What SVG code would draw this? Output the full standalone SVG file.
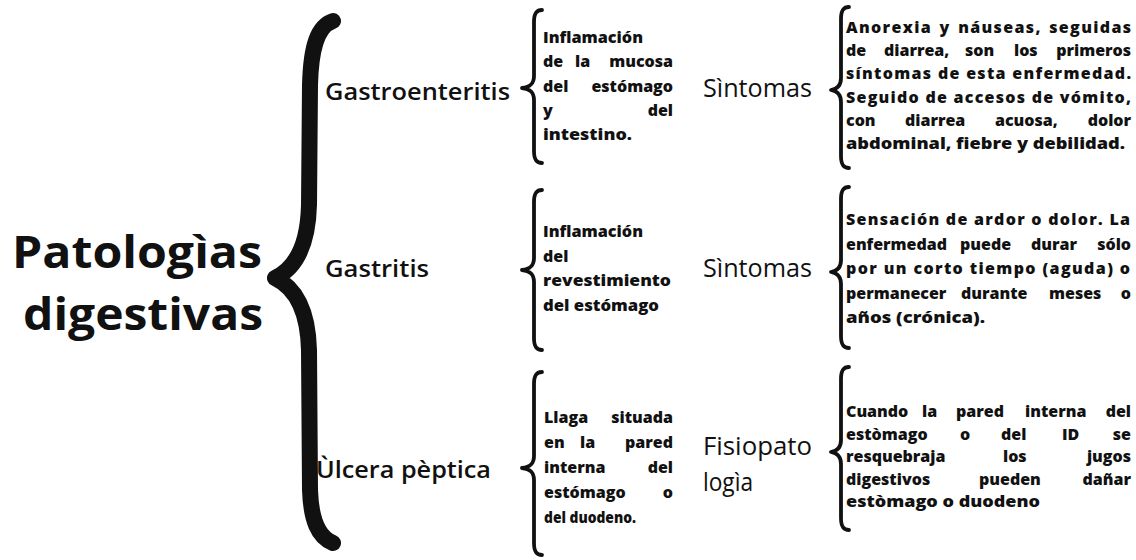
<svg xmlns="http://www.w3.org/2000/svg" width="1136" height="560" viewBox="0 0 1136 560">
<style>
.t{font-family:"Open Sans","Liberation Sans",sans-serif;fill:#111}
.main{font-size:44px;font-weight:700}
.lvl1{font-size:24px;font-weight:600}
.lbl{font-size:25px;font-weight:500}
.mid{font-size:16px;font-weight:800}
.body{font-size:16px;font-weight:800}
.e{text-anchor:end}
.br{fill:none;stroke:#111;stroke-width:3.8;stroke-linecap:round;stroke-linejoin:round}
.big{fill:none;stroke:#111;stroke-width:16;stroke-linecap:round;stroke-linejoin:round}
</style>
<rect width="1136" height="560" fill="#fff"/>
<g id="connectors">
<path class="big" d="M 333,21 C 318,26 311,45 310,85 L 309,205 C 308,245 296,268 275,278 C 296,288 308,311 309,350 L 310,490 C 311,520 318,537 333,543"/>
<path class="br" d="M 542,10 C 536,10 534,14 534,22 L 534,76 C 534,84 530,87 522,88 C 530,89 534,92 534,100 L 534,151 C 534,159 536,163 542,163"/>
<path class="br" d="M 542,190 C 536,190 534,194 534,202 L 534,258 C 534,266 530,269 522,270 C 530,271 534,274 534,282 L 534,338 C 534,346 536,350 542,350"/>
<path class="br" d="M 542,372 C 536,372 534,376 534,384 L 534,456 C 534,464 530,467 522,468 C 530,469 534,472 534,480 L 534,543 C 534,551 536,555 542,555"/>
<path class="br" d="M 849,7 C 843,7 841,11 841,19 L 841,78 C 841,86 837,89 831,90 C 837,91 841,94 841,102 L 841,156 C 841,164 843,168 849,168"/>
<path class="br" d="M 849,187 C 843,187 841,191 841,199 L 841,260 C 841,268 837,271 831,272 C 837,273 841,276 841,284 L 841,336 C 841,344 843,348 849,348"/>
<path class="br" d="M 849,367 C 843,367 841,371 841,379 L 841,440 C 841,448 837,451 831,452 C 837,453 841,456 841,464 L 841,518 C 841,526 843,530 849,530"/>
</g>
<g id="root">
<text class="t main" x="12" y="268" textLength="250" lengthAdjust="spacingAndGlyphs">Patologìas</text>
<text class="t main" x="23" y="330" textLength="240" lengthAdjust="spacingAndGlyphs">digestivas</text>
</g>
<g id="gastroenteritis">
<text class="t lvl1" x="325" y="100" textLength="185" lengthAdjust="spacingAndGlyphs">Gastroenteritis</text>
</g>
<g id="gastritis">
<text class="t lvl1" x="325" y="277" textLength="104" lengthAdjust="spacingAndGlyphs">Gastritis</text>
</g>
<g id="ulcera">
<text class="t lvl1" x="316" y="478" textLength="175" lengthAdjust="spacingAndGlyphs">Ùlcera pèptica</text>
</g>
<g id="def-gastroenteritis">
<text class="t mid" x="543" y="43" textLength="100" lengthAdjust="spacingAndGlyphs">Inflamación</text>
<text class="t mid" y="67"><tspan x="543">de</tspan><tspan x="575">la</tspan></text>
<text class="t mid e" x="673" y="67">mucosa</text>
<text class="t mid" x="543" y="91.5">del</text>
<text class="t mid e" x="673" y="91.5">estómago</text>
<text class="t mid" x="543" y="115.8">y</text>
<text class="t mid e" x="673" y="115.8">del</text>
<text class="t mid" x="543" y="140" textLength="89" lengthAdjust="spacingAndGlyphs">intestino.</text>
</g>
<g id="def-gastritis">
<text class="t mid" x="543" y="237" textLength="100" lengthAdjust="spacingAndGlyphs">Inflamación</text>
<text class="t mid" x="543" y="261.5">del</text>
<text class="t mid" x="543" y="286" textLength="128" lengthAdjust="spacingAndGlyphs">revestimiento</text>
<text class="t mid" x="543" y="310.5" textLength="116" lengthAdjust="spacingAndGlyphs">del estómago</text>
</g>
<g id="def-ulcera">
<text class="t mid" x="544" y="423">Llaga</text>
<text class="t mid e" x="673" y="423">situada</text>
<text class="t mid" y="448"><tspan x="544">en</tspan><tspan x="580">la</tspan></text>
<text class="t mid e" x="673" y="448">pared</text>
<text class="t mid" x="544" y="473">interna</text>
<text class="t mid e" x="673" y="473">del</text>
<text class="t mid" x="544" y="498">estómago</text>
<text class="t mid e" x="673" y="498">o</text>
<text class="t mid" x="544" y="523" textLength="92" lengthAdjust="spacingAndGlyphs">del duodeno.</text>
</g>
<g id="sintomas-1">
<text class="t lbl" x="703" y="97" textLength="109" lengthAdjust="spacingAndGlyphs">Sìntomas</text>
</g>
<g id="sintomas-2">
<text class="t lbl" x="703" y="277" textLength="109" lengthAdjust="spacingAndGlyphs">Sìntomas</text>
</g>
<g id="fisiopatologia">
<text class="t lbl" x="703" y="455" textLength="109" lengthAdjust="spacingAndGlyphs">Fisiopato</text>
<text class="t lbl" x="703" y="491" textLength="50" lengthAdjust="spacingAndGlyphs">logìa</text>
</g>
<g id="desc-gastroenteritis">
<text class="t body" x="846" y="33" word-spacing="2" textLength="285" lengthAdjust="spacing">Anorexia y náuseas, seguidas</text>
<text class="t body" y="56.2"><tspan x="846">de</tspan><tspan x="884">diarrea,</tspan><tspan x="965">son</tspan><tspan x="1014">los</tspan></text>
<text class="t body e" x="1131" y="56.2">primeros</text>
<text class="t body" x="846" y="79.4" textLength="285" lengthAdjust="spacing">síntomas de esta enfermedad.</text>
<text class="t body" x="846" y="102.6" textLength="285" lengthAdjust="spacing">Seguido de accesos de vómito,</text>
<text class="t body" y="125.8"><tspan x="846">con</tspan><tspan x="905">diarrea</tspan><tspan x="995">acuosa,</tspan></text>
<text class="t body e" x="1131" y="125.8">dolor</text>
<text class="t body" x="846" y="149" textLength="279" lengthAdjust="spacingAndGlyphs">abdominal, fiebre y debilidad.</text>
</g>
<g id="desc-gastritis">
<text class="t body" x="846" y="225" textLength="284" lengthAdjust="spacing">Sensación de ardor o dolor. La</text>
<text class="t body" y="249.5"><tspan x="846">enfermedad</tspan><tspan x="960">puede</tspan><tspan x="1031">durar</tspan></text>
<text class="t body e" x="1131" y="249.5">sólo</text>
<text class="t body" x="846" y="274" textLength="284" lengthAdjust="spacing">por un corto tiempo (aguda) o</text>
<text class="t body" y="298.5"><tspan x="846">permanecer</tspan><tspan x="961">durante</tspan><tspan x="1049">meses</tspan></text>
<text class="t body e" x="1131" y="298.5">o</text>
<text class="t body" x="846" y="323" textLength="139" lengthAdjust="spacingAndGlyphs">años (crónica).</text>
</g>
<g id="desc-ulcera">
<text class="t body" y="417"><tspan x="846">Cuando</tspan><tspan x="922">la</tspan><tspan x="956">pared</tspan><tspan x="1025">interna</tspan></text>
<text class="t body e" x="1131" y="417">del</text>
<text class="t body" y="439.5"><tspan x="846">estòmago</tspan><tspan x="960">o</tspan><tspan x="1001">del</tspan><tspan x="1062">ID</tspan></text>
<text class="t body e" x="1131" y="439.5">se</text>
<text class="t body" y="462"><tspan x="846">resquebraja</tspan><tspan x="1003">los</tspan></text>
<text class="t body e" x="1131" y="462">jugos</text>
<text class="t body" y="484.5"><tspan x="846">digestivos</tspan><tspan x="979">pueden</tspan></text>
<text class="t body e" x="1131" y="484.5">dañar</text>
<text class="t body" x="846" y="507" textLength="194" lengthAdjust="spacingAndGlyphs">estòmago o duodeno</text>
</g>
</svg>
